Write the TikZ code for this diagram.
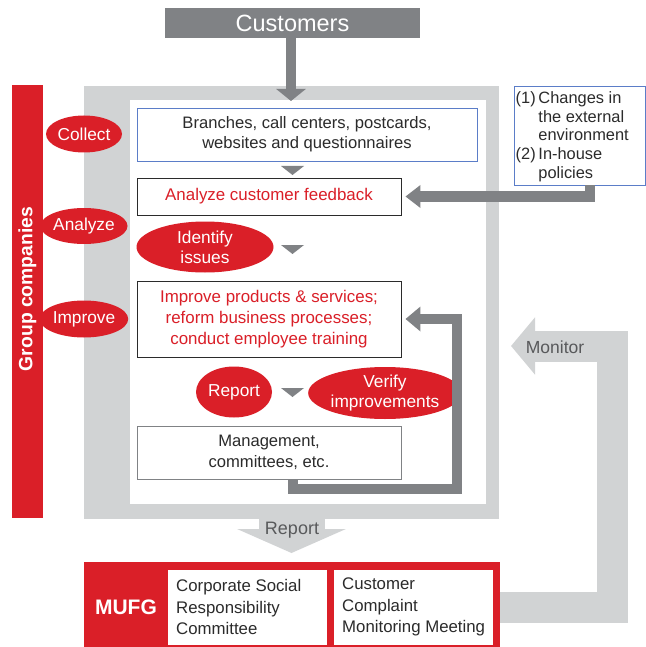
\documentclass[tikz,border=0pt]{standalone}
\usepackage{fontspec}
\setmainfont{Liberation Sans}
\usetikzlibrary{arrows.meta,shapes.geometric}
\definecolor{mred}{HTML}{DA1F28}
\definecolor{dgray}{HTML}{808285}
\definecolor{lgray}{HTML}{D1D3D4}
\definecolor{bblue}{HTML}{5B7DC8}
\definecolor{txt}{HTML}{2B2B2B}
\definecolor{mtxt}{HTML}{58595B}
\tikzset{
  box/.style={draw=#1, line width=0.9pt, fill=white, inner sep=0pt, align=center},
  oval/.style={ellipse, fill=mred, text=white, inner sep=0pt, align=center,
    font=\fontsize{17.3}{20}\selectfont},
  darrow/.style={draw=dgray, line width=10.5pt, line join=miter,
    -{Triangle[width=24pt,length=15pt]}},
  tri/.style={fill=dgray},
}
\begin{document}
\begin{tikzpicture}[x=1pt,y=-1pt]
\useasboundingbox (0,0) rectangle (645,647);
% frame
\node[fill=lgray, minimum width=415, minimum height=433, inner sep=0] (frame) at (291.5,302.5) {};
\node[fill=white, minimum width=356, minimum height=404, inner sep=0] (inner) at (308,302) {};
% red bar
\node[fill=mred, minimum width=31, minimum height=433, inner sep=0] (grp) at (27.5,301.5) {};
\node[rotate=90, text=white, font=\fontsize{19.3}{22}\selectfont\bfseries] (grpt) at (27.5,289) {Group companies};
% customers
\node[fill=dgray, minimum width=255, minimum height=30, inner sep=0, text=white,
  font=\fontsize{23.5}{26}\selectfont] (cust) at (292.5,23) {Customers};
\coordinate (custtip) at (291,101);
\draw[darrow, -{Triangle[width=29pt,length=12pt]}] (cust.south -| custtip) -- (custtip);
% boxes
\node[box=bblue, minimum width=340, minimum height=53, text=txt,
  font=\fontsize{16.6}{20}\selectfont] (branch) at (307,134.5) {Branches, call centers, postcards,\\websites and questionnaires};
\node[box=txt, minimum width=264, minimum height=37, text=mred,
  font=\fontsize{16.9}{20}\selectfont] (ana) at (269,196.5) {Analyze customer feedback};
\node[box=txt, minimum width=264, minimum height=76, text=mred,
  font=\fontsize{16.9}{21}\selectfont] (imp) at (269,319) {Improve products \& services;\\reform business processes;\\conduct employee training};
\node[box=dgray, minimum width=264, minimum height=53, text=txt,
  font=\fontsize{16.6}{21}\selectfont] (mgmt) at (269,452.5) {Management,\\committees, etc.};
% external box
\node[box=bblue, minimum width=131, minimum height=99, anchor=north west] (ext) at (514,86) {};
\node[anchor=north west, inner sep=0, text=txt, font=\fontsize{16.4}{18.6}\selectfont] (extt) at (515.5,90.5)
  {\begin{tabular}{@{}l@{\,}l@{}}(1)&Changes in\\&the external\\&environment\\(2)&In-house\\&policies\end{tabular}};
% ovals
\node[oval, minimum width=76, minimum height=37] (collect) at (84,134) {Collect};
\node[oval, minimum width=76, minimum height=36] (analyze) at (84,226) {Analyze};
\node[oval, minimum width=76, minimum height=37] (improve) at (84,319) {Improve};
\node[oval, minimum width=137, minimum height=51] (ident) at (205,247) {Identify\\issues};
\node[oval, minimum width=76, minimum height=51] (report) at (234,392) {Report};
\node[oval, minimum width=136, minimum height=52] (verify) at (385,393) {Verify\\improvements};
% small triangles
\fill[tri] (281,166) -- (304,166) -- (292.5,175) -- cycle;
\fill[tri] (281,245) -- (304,245) -- (292.5,254) -- cycle;
\fill[tri] (281,388) -- (304,388) -- (292.5,397) -- cycle;
% external -> analyze
\coordinate (e1) at (590,185);
\draw[darrow, -{Triangle[width=22pt,length=15pt]}, shorten >=4pt] (e1) |- (ana.east);
% feedback loop
\coordinate (f0) at (293,479);
\draw[darrow, shorten >=4pt] (f0) -- (293,489) -- (457,489) -- (457,319) -- (imp.east);
% MUFG
\node[fill=mred, minimum width=416, minimum height=85, inner sep=0] (mufg) at (292,604.5) {};
\node[text=white, font=\fontsize{21}{24}\selectfont\bfseries] (mufgt) at (126,607) {MUFG};
\node[fill=white, minimum width=159, minimum height=75, inner sep=0] (csr) at (247.5,607.5) {};
\node[fill=white, minimum width=159, minimum height=75, inner sep=0] (ccm) at (413.5,607.5) {};
\node[anchor=west, align=left, inner sep=0, text=txt, font=\fontsize{16.8}{21.5}\selectfont] at (176,607)
  {Corporate Social\\Responsibility\\Committee};
\node[anchor=west, align=left, inner sep=0, text=txt, font=\fontsize{16.8}{21.5}\selectfont] at (342,607)
  {Customer\\Complaint\\Monitoring Meeting};
% report arrow
\coordinate (reptip) at (291.5,553);
\draw[draw=lgray, line width=66pt, -{Triangle[width=108pt,length=24pt]}] (frame.south) -- (reptip);
\node[text=mtxt, font=\fontsize{18}{20}\selectfont] (rept) at (292,530) {Report};
% monitor arrow
\coordinate (mon) at (511,346);
\draw[draw=lgray, line width=31pt, line join=miter, -{Triangle[width=56pt,length=24pt]}]
  (mufg.east |- 0,607.5) -- (612.5,607.5) -- (612.5,346) -- (mon);
\node[text=mtxt, font=\fontsize{17.5}{20}\selectfont] (mont) at (555,347) {Monitor};
\end{tikzpicture}
\end{document}
